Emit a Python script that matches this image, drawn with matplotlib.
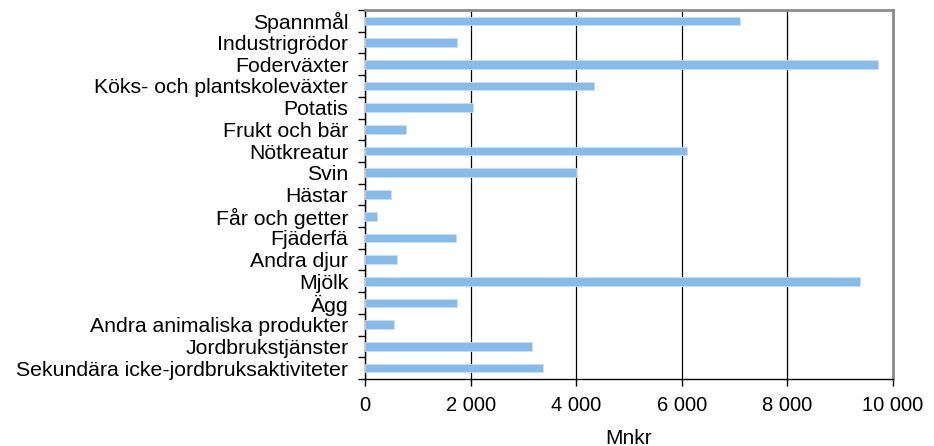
import numpy as np
import matplotlib.pyplot as plt
from matplotlib.ticker import FuncFormatter, FixedLocator

categories = [
    "Spannmål", "Industrigrödor", "Foderväxter", "Köks- och plantskoleväxter",
    "Potatis", "Frukt och bär", "Nötkreatur", "Svin", "Hästar", "Får och getter",
    "Fjäderfä", "Andra djur", "Mjölk", "Ägg", "Andra animaliska produkter",
    "Jordbrukstjänster", "Sekundära icke-jordbruksaktiviteter",
]
values = [7110, 1740, 9710, 4330, 2040, 780, 6100, 4000, 490, 230,
          1720, 610, 9380, 1740, 550, 3170, 3370]
xticks = [0, 2000, 4000, 6000, 8000, 10000]

plt.rcParams["font.family"] = ["Liberation Sans", "DejaVu Sans"]

fig = plt.figure(figsize=(9.34, 4.46), dpi=100)
ax = fig.add_axes([365 / 934, 1 - 379 / 446, (893 - 365) / 934, (379 - 10) / 446])

y = np.arange(len(categories))
ax.barh(y, values, height=0.4, color="#87BBEA", edgecolor="#C9E0F5", linewidth=0.6, zorder=3)

ax.set_ylim(len(categories) - 0.5, -0.5)
ax.set_xlim(0, 10000)

ax.set_yticks(y)
ax.set_yticklabels(categories, fontsize=15.3)
ax.yaxis.set_minor_locator(FixedLocator(np.arange(len(categories) + 1) - 0.5))
ax.tick_params(axis="y", which="major", length=0, pad=12)
ax.tick_params(axis="y", which="minor", length=5, width=1, color="black")

ax.set_xticks(xticks)
ax.xaxis.set_major_formatter(FuncFormatter(lambda v, p: f"{int(v):,}".replace(",", " ")))
ax.tick_params(axis="x", length=5, width=1, labelsize=14.5, pad=7)
ax.set_xlabel("Mnkr", fontsize=15, labelpad=10)

ax.grid(axis="x", color="black", linewidth=0.9, zorder=1)
for side in ["left", "bottom"]:
    ax.spines[side].set_color("black")
    ax.spines[side].set_linewidth(1)
for side in ["top", "right"]:
    ax.spines[side].set_color("#8C8C8C")
    ax.spines[side].set_linewidth(2)

fig.savefig("out.png", dpi=100)
